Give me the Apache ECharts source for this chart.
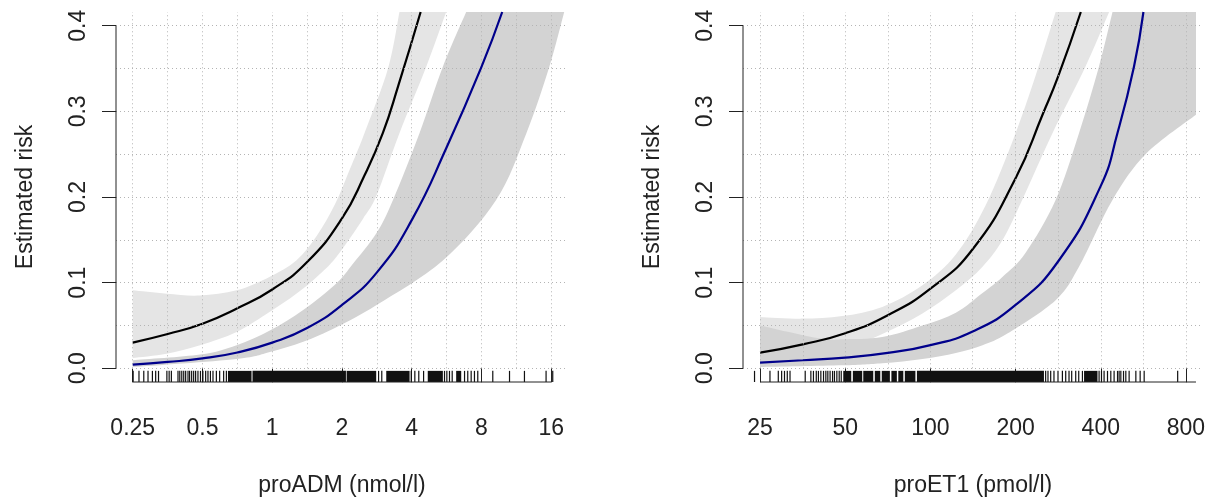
<!DOCTYPE html>
<html><head><meta charset="utf-8">
<script src="https://cdn.jsdelivr.net/npm/echarts@6/dist/echarts.min.js"></script>
<style>html,body{margin:0;padding:0;background:#fff}#c{width:1210px;height:499px}</style>
</head><body><div id="c"></div>
<script>
// ---------- tick values and labels ----------
const admTicks = [0.25, 0.5, 1, 2, 4, 8, 16];
const admTickLabels = ['0.25', '0.5', '1', '2', '4', '8', '16'];
const et1Ticks = [25, 50, 100, 200, 400, 800];
const et1TickLabels = ['25', '50', '100', '200', '400', '800'];
const yTicks = [0, 0.1, 0.2, 0.3, 0.4];
const yTickLabels = ['0.0', '0.1', '0.2', '0.3', '0.4'];
const admGridX = [0.25, 0.354, 0.5, 0.707, 1, 1.414, 2, 2.83, 4, 5.66, 8, 11.3, 16];
const et1GridX = [25, 35.4, 50, 70.7, 100, 141, 200, 283, 400, 566, 800];
const gridY = [0, 0.05, 0.1, 0.15, 0.2, 0.25, 0.3, 0.35, 0.4];

// ---------- proADM panel ----------
const admBlack = [[0.25,0.030],[0.354,0.040],[0.5,0.052],[0.707,0.070],[1,0.092],[1.414,0.124],[2,0.175],[2.5,0.225],[3,0.2745],[3.5,0.330],[4.37,0.416]];
const admBlackUpper = [[0.25,0.091],[0.35,0.087],[0.488,0.085],[0.702,0.091],[0.977,0.107],[1.27,0.126],[1.56,0.155],[1.87,0.192],[2.16,0.232],[2.5,0.2745],[3.16,0.350],[3.54,0.416]];
const admBlackLower = [[0.25,0.012],[0.35,0.017],[0.488,0.027],[0.702,0.0425],[0.977,0.066],[1.27,0.087],[1.56,0.107],[1.89,0.130],[2.47,0.175],[2.82,0.202],[3.54,0.2745],[4.62,0.352],[5.63,0.416]];
const admBlue = [[0.25,0.0043],[0.354,0.0074],[0.5,0.0115],[0.707,0.0185],[1,0.030],[1.414,0.047],[2,0.074],[2.83,0.112],[4,0.173],[5.66,0.258],[8,0.352],[9.83,0.416]];
const admBlueUpper = [[0.25,0.0094],[0.488,0.016],[0.702,0.027],[0.977,0.044],[1.36,0.068],[1.89,0.099],[2.23,0.122],[2.82,0.158],[3.32,0.1965],[4.32,0.2745],[5.45,0.352],[6.87,0.416]];
const admBlueLower = [[0.25,0.0015],[0.702,0.011],[0.977,0.019],[1.36,0.031],[1.89,0.048],[2.82,0.074],[5.45,0.126],[9.25,0.1965],[12.5,0.2745],[15.7,0.352],[18.2,0.416]];
const admRugTicks = [0.251,0.266,0.279,0.291,0.304,0.314,0.323,0.351,0.359,0.367,0.392,0.399,0.407,0.415,0.423,0.433,0.440,0.449,0.458,0.467,0.478,0.490,0.502,0.516,0.528,0.541,0.555,0.574,0.593,0.617,0.634,2.877,2.97,3.98,4.125,4.29,4.50,5.54,5.67,5.82,5.98,6.76,6.98,7.22,7.46,7.71,8.95,10.57,12.26,15.2,16.24];
const admRugBands = [[0.644,0.814],[0.822,2.08],[2.094,2.81],[3.105,3.915],[4.69,5.45],[6.22,6.54]];
const admAxisLine = [0.25, 16];

// ---------- proET1 panel ----------
const et1Black = [[25,0.0183],[35.4,0.028],[50,0.041],[70.7,0.062],[100,0.093],[141,0.139],[200,0.222],[250,0.2975],[283,0.341],[340,0.416]];
const et1BlackUpper = [[25,0.060],[35.2,0.058],[48.8,0.061],[67.6,0.0717],[93.7,0.097],[123,0.133],[156.6,0.190],[200,0.2745],[241,0.352],[277,0.416]];
const et1BlackLower = [[25,0.005],[35.2,0.012],[48.8,0.022],[67.6,0.040],[93.7,0.064],[123,0.091],[152.8,0.1185],[180,0.150],[211,0.1965],[270,0.2745],[353,0.352],[428,0.416]];
const et1Blue = [[25,0.0067],[35.4,0.0094],[50,0.0125],[70.7,0.018],[100,0.027],[141,0.043],[200,0.074],[283,0.125],[400,0.213],[458,0.2745],[524,0.352],[566,0.416]];
const et1BlueUpper = [[25,0.050],[40.3,0.035],[48.8,0.034],[67.6,0.0366],[93.7,0.050],[123,0.065],[152.8,0.088],[180,0.107],[217,0.135],[277,0.1965],[335,0.2745],[394,0.352],[440,0.416]];
const et1BlueTopEnd = [[868,0.416]];
const et1BlueLower = [[25,0.0015],[48.8,0.0035],[67.6,0.006],[93.7,0.011],[123,0.018],[152.8,0.027],[187,0.0405],[277,0.0795],[335,0.1185],[440,0.1965],[578,0.2504],[868,0.296]];
const et1RugTicks = [23.9,27.1,29.0,29.8,30.5,31.2,31.9,36.1,37.8,38.6,39.5,40.2,41.0,41.9,42.7,43.4,44.2,45.1,45.8,46.7,47.6,48.4,255.4,260.3,266.1,273.3,282.4,292.7,300.7,308.9,315.7,326.2,334.3,344.5,394.5,402.3,410.9,422.5,434.0,445.8,458.4,464.4,470.9,481.3,490.4,503.8,532.1,551.1,569.4,747.8];
const et1RugBands = [[49.2,52.5],[53.2,57.4],[57.9,62.8],[63.6,66.5],[67.3,71.9],[72.8,76.1],[77.0,80.2],[81.2,88.5],[89.6,251.9],[349.1,389.4]];
const et1AxisLine = [25, 868];

// ---------- layout constants ----------
const Y_MIN = -0.016, Y_MAX = 0.416, RUG_LOW = -0.016, RUG_HIGH = -0.003;
const FONT = "'Liberation Sans', Arial, Helvetica, sans-serif";
const TXT = '#222';
const LIGHT = '#e5e5e5', DARK = '#d3d3d3';

function lookup(ticks, labels, isLog) {
  return function (v) {
    for (let i = 0; i < ticks.length; i++) {
      const d = isLog ? Math.abs(Math.log(ticks[i]) - Math.log(v)) : Math.abs(ticks[i] - v);
      if (d < 1e-6) return labels[i];
    }
    return '';
  };
}

// Catmull-Rom smoothing of an edge in pixel space (rendering only)
function smoothEdge(pts, start) {
  let d = (start ? 'M' : 'L') + pts[0][0] + ' ' + pts[0][1];
  for (let i = 0; i < pts.length - 1; i++) {
    const p0 = pts[i - 1] || pts[i], p1 = pts[i], p2 = pts[i + 1], p3 = pts[i + 2] || pts[i + 1];
    const c1x = p1[0] + (p2[0] - p0[0]) / 6, c1y = p1[1] + (p2[1] - p0[1]) / 6;
    const c2x = p2[0] - (p3[0] - p1[0]) / 6, c2y = p2[1] - (p3[1] - p1[1]) / 6;
    d += ' C' + c1x + ' ' + c1y + ' ' + c2x + ' ' + c2y + ' ' + p2[0] + ' ' + p2[1];
  }
  return d;
}

function bandSeries(gi, upper, lower, color, z, corner) {
  return {
    type: 'custom', xAxisIndex: gi, yAxisIndex: gi, z: z, clip: true, silent: true,
    data: [[upper[0][0], upper[0][1]]],
    renderItem: function (params, api) {
      const up = upper.map(p => api.coord(p));
      const lo = lower.slice().reverse().map(p => api.coord(p));
      let d = smoothEdge(up, true);
      (corner || []).forEach(p => { const c = api.coord(p); d += ' L' + c[0] + ' ' + c[1]; });
      d += ' ' + smoothEdge(lo, false) + ' Z';
      return { type: 'path', shape: { pathData: d }, style: { fill: color } };
    }
  };
}
function curveSeries(gi, pts, color, z) {
  return {
    type: 'line', xAxisIndex: gi, yAxisIndex: gi, z: z, data: pts, smooth: 0.5,
    showSymbol: false, symbol: 'none', clip: true, silent: true,
    lineStyle: { color: color, width: 2.2 }
  };
}
function rugSeries(gi, ticks) {
  return {
    type: 'custom', xAxisIndex: gi, yAxisIndex: gi, z: 6, clip: false, silent: true,
    data: ticks.map(v => [v, RUG_LOW]),
    renderItem: function (params, api) {
      const a = api.coord([api.value(0), RUG_LOW]);
      const b = api.coord([api.value(0), RUG_HIGH]);
      return { type: 'line', shape: { x1: a[0], y1: a[1], x2: b[0], y2: b[1] }, style: { stroke: '#111', lineWidth: 1.2 } };
    }
  };
}
function rugBandSeries(gi, bands) {
  return {
    type: 'custom', xAxisIndex: gi, yAxisIndex: gi, z: 6, clip: false, silent: true,
    data: bands.map(b => [b[0], b[1]]),
    encode: { x: [0, 1] },
    renderItem: function (params, api) {
      const a = api.coord([api.value(0), RUG_LOW]);
      const b = api.coord([api.value(1), RUG_HIGH]);
      return { type: 'rect', shape: { x: a[0], y: b[1], width: Math.max(1, b[0] - a[0]), height: a[1] - b[1] }, style: { fill: '#111' } };
    }
  };
}
function axisLineSeries(gi, pts) {
  return {
    type: 'line', xAxisIndex: gi, yAxisIndex: gi, z: 7, data: pts, symbol: 'none', showSymbol: false,
    clip: false, silent: true, lineStyle: { color: '#222', width: 1 }
  };
}
function gridSeries(gi, gx) {
  const data = gridY.map(v => ({ yAxis: v }));
  gx.forEach(v => data.push([{ coord: [v, 0] }, { coord: [v, Y_MAX] }]));
  return {
    type: 'line', xAxisIndex: gi, yAxisIndex: gi, z: 1, data: [], silent: true,
    markLine: {
      silent: true, symbol: ['none', 'none'], label: { show: false }, animation: false,
      lineStyle: { color: '#b4b4b4', width: 1, type: [1, 3] },
      emphasis: { disabled: true },
      data: data
    }
  };
}

function xAxisCfg(gi, min, max, ticks, labels, name) {
  return {
    type: 'log', logBase: 2, gridIndex: gi, min: min, max: max,
    axisLine: { show: false }, splitLine: { show: false },
    axisTick: { show: true, length: 14, customValues: ticks, lineStyle: { color: '#222', width: 1 } },
    axisLabel: { customValues: ticks, formatter: lookup(ticks, labels, true), margin: 35, fontSize: 23, color: TXT, fontFamily: FONT },
    name: name, nameLocation: 'middle', nameGap: 92, nameMoveOverlap: false,
    nameTextStyle: { fontSize: 23, color: TXT, fontFamily: FONT }
  };
}
function yAxisCfg(gi) {
  return {
    type: 'value', gridIndex: gi, min: Y_MIN, max: Y_MAX,
    axisLine: { show: false }, splitLine: { show: false },
    axisTick: { show: true, length: 14, customValues: yTicks, lineStyle: { color: '#222', width: 1 } },
    axisLabel: { customValues: yTicks, formatter: lookup(yTicks, yTickLabels, false), rotate: 90, margin: 26, fontSize: 23, color: TXT, fontFamily: FONT },
    name: 'Estimated risk', nameLocation: 'middle', nameRotate: 90, nameGap: 79, nameMoveOverlap: false,
    nameTextStyle: { fontSize: 23, color: TXT, fontFamily: FONT }
  };
}

const ADM_MIN = 0.2117, ADM_MAX = 18.9, ET1_MIN = 21.76, ET1_MAX = 919;

const option = {
  animation: false,
  backgroundColor: '#ffffff',
  grid: [
    { left: 116, top: 12, width: 452, height: 370, containLabel: false, outerBoundsMode: 'none' },
    { left: 743, top: 12, width: 460, height: 370, containLabel: false, outerBoundsMode: 'none' }
  ],
  xAxis: [
    xAxisCfg(0, ADM_MIN, ADM_MAX, admTicks, admTickLabels, 'proADM (nmol/l)'),
    xAxisCfg(1, ET1_MIN, ET1_MAX, et1Ticks, et1TickLabels, 'proET1 (pmol/l)')
  ],
  yAxis: [yAxisCfg(0), yAxisCfg(1)],
  series: [
    gridSeries(0, admGridX),
    bandSeries(0, admBlackUpper, admBlackLower, LIGHT, 2),
    bandSeries(0, admBlueUpper, admBlueLower, DARK, 3),
    curveSeries(0, admBlack, '#000000', 4),
    curveSeries(0, admBlue, '#00008B', 5),
    rugSeries(0, admRugTicks),
    rugBandSeries(0, admRugBands),
    axisLineSeries(0, [[admAxisLine[0], Y_MIN], [admAxisLine[1], Y_MIN]]),
    axisLineSeries(0, [[ADM_MIN, yTicks[0]], [ADM_MIN, yTicks[yTicks.length - 1]]]),

    gridSeries(1, et1GridX),
    bandSeries(1, et1BlackUpper, et1BlackLower, LIGHT, 2),
    bandSeries(1, et1BlueUpper, et1BlueLower, DARK, 3, et1BlueTopEnd),
    curveSeries(1, et1Black, '#000000', 4),
    curveSeries(1, et1Blue, '#00008B', 5),
    rugSeries(1, et1RugTicks),
    rugBandSeries(1, et1RugBands),
    axisLineSeries(1, [[et1AxisLine[0], Y_MIN], [et1AxisLine[1], Y_MIN]]),
    axisLineSeries(1, [[ET1_MIN, yTicks[0]], [ET1_MIN, yTicks[yTicks.length - 1]]])
  ]
};

const chart = echarts.init(document.getElementById('c'), null, { renderer: 'canvas' });
chart.setOption(option);
</script></body></html>
